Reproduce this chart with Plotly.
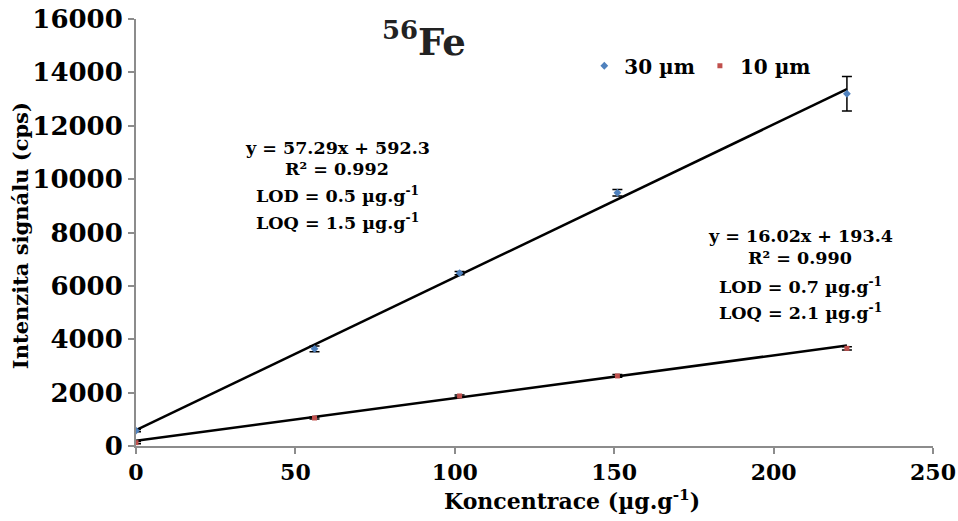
import plotly.graph_objects as go

# Data
conc_30 = [0, 56, 101.5, 151, 223]
signal_30 = [575, 3640, 6480, 9490, 13200]
err_30 = [40, 110, 60, 120, 650]

conc_10 = [0, 56, 101.5, 151, 223]
signal_10 = [125, 1050, 1875, 2625, 3660]
err_10 = [40, 40, 40, 50, 60]

fit_30 = (57.29, 592.3)
fit_10 = (16.02, 193.4)
fit_x = [0, 223]

x_ticks = [0, 50, 100, 150, 200, 250]
y_ticks = [0, 2000, 4000, 6000, 8000, 10000, 12000, 14000, 16000]

FONT = "DejaVu Serif"
BLUE = "#4F81BD"
RED = "#C0504D"

fig = go.Figure()

fig.add_trace(go.Scatter(
    x=fit_x, y=[fit_30[0] * v + fit_30[1] for v in fit_x], mode="lines",
    line=dict(color="black", width=2.5), showlegend=False, hoverinfo="skip"))
fig.add_trace(go.Scatter(
    x=fit_x, y=[fit_10[0] * v + fit_10[1] for v in fit_x], mode="lines",
    line=dict(color="black", width=2.5), showlegend=False, hoverinfo="skip"))

fig.add_trace(go.Scatter(
    x=conc_30, y=signal_30, mode="markers", name="30 µm",
    marker=dict(symbol="diamond", size=6, color=BLUE),
    error_y=dict(type="data", array=err_30, color="black", thickness=1.5, width=5)))
fig.add_trace(go.Scatter(
    x=conc_10, y=signal_10, mode="markers", name="10 µm",
    marker=dict(symbol="square", size=5, color=RED),
    error_y=dict(type="data", array=err_10, color="black", thickness=1.5, width=5)))

ann_font = dict(family=FONT, size=17.5, color="black", weight="bold")
lines1 = [("y = 57.29x + 592.3", 148), ("R² = 0.992", 169),
          ("LOD = 0.5 µg.g<sup>-1</sup>", 195), ("LOQ = 1.5 µg.g<sup>-1</sup>", 222)]
lines2 = [("y = 16.02x + 193.4", 236), ("R² = 0.990", 258),
          ("LOD = 0.7 µg.g<sup>-1</sup>", 286), ("LOQ = 2.1 µg.g<sup>-1</sup>", 312)]

x0, x1 = 135.7, 932.7
y0, y1 = 446.0, 19.3

def px(xp):
    return (xp - x0) / (x1 - x0)

def py(yp):
    return (y0 - yp) / (y0 - y1)

anns = []
for t, yp in lines1:
    anns.append(dict(text=t, x=px(337), y=py(yp), xref="paper", yref="paper",
                     showarrow=False, font=ann_font, xanchor="center", yanchor="middle"))
for t, yp in lines2:
    anns.append(dict(text=t, x=px(800), y=py(yp), xref="paper", yref="paper",
                     showarrow=False, font=ann_font, xanchor="center", yanchor="middle"))
anns.append(dict(text="<sup>56</sup>Fe", x=px(424), y=py(40), xref="paper", yref="paper",
                 showarrow=False, font=dict(family=FONT, size=37, color="#222", weight="bold"),
                 xanchor="center", yanchor="middle"))
# axis titles placed as in the reference
anns.append(dict(text="Koncentrace (µg.g<sup>-1</sup>)", x=px(572), y=py(500),
                 xref="paper", yref="paper", showarrow=False,
                 font=dict(family=FONT, size=22, color="black", weight="bold"),
                 xanchor="center", yanchor="middle"))
anns.append(dict(text="Intenzita signálu (cps)", x=px(21), y=py(236), textangle=-90,
                 xref="paper", yref="paper", showarrow=False,
                 font=dict(family=FONT, size=21, color="black", weight="bold"),
                 xanchor="center", yanchor="middle"))

axis_common = dict(
    showgrid=False, zeroline=False, showline=True, linecolor="#8c8c8c", linewidth=2,
    ticks="outside", tickcolor="#8c8c8c", ticklen=6, tickwidth=2, automargin=False)

fig.update_layout(
    width=958, height=521,
    margin=dict(l=135.7, r=958 - 932.7, t=19.3, b=521 - 446),
    paper_bgcolor="white", plot_bgcolor="white",
    annotations=anns,
    showlegend=True,
    legend=dict(orientation="h", x=px(584), y=py(66), xanchor="left", yanchor="middle",
                font=dict(family=FONT, size=20, color="black", weight="bold"),
                itemwidth=30, bgcolor="rgba(0,0,0,0)"),
    xaxis=dict(axis_common, range=[0, 250], tickvals=x_ticks,
               tickfont=dict(family=FONT, size=22, color="black", weight="bold")),
    yaxis=dict(axis_common, range=[0, 16000], tickvals=y_ticks, tickformat="d",
               tickfont=dict(family=FONT, size=26, color="black", weight="bold")),
)

fig.write_html("out.html", config={"displayModeBar": False},
               post_script="document.body.style.margin='0';document.body.style.overflow='hidden';")
